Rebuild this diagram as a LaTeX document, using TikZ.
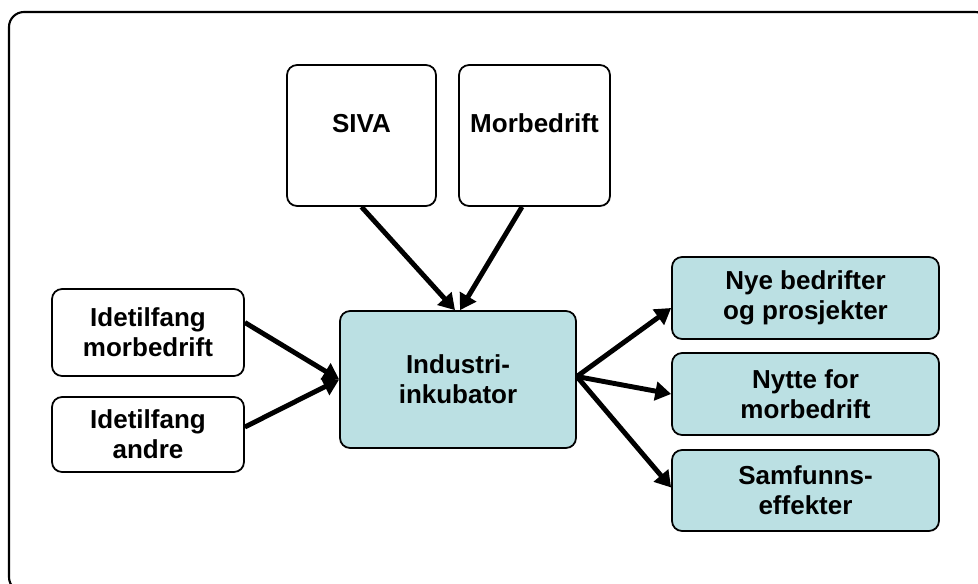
\documentclass[tikz,border=0pt]{standalone}
\usepackage{fontspec}
\setmainfont{Liberation Sans}
\usepackage{tikz}
\usetikzlibrary{arrows.meta}

\definecolor{inkfill}{RGB}{187,224,227}

\tikzset{
    box/.style = {draw, line width=1pt, rounded corners=0.2cm, align=center, inner sep=0pt,
                  font=\fontsize{14.8}{17}\selectfont\bfseries},
    inbox/.style = {box, fill=white},
    outbox/.style = {box, fill=inkfill},
    pil/.style = {line width=2.8pt, -{Triangle[length=9pt,width=10.5pt]}}
}

\begin{document}
\begin{tikzpicture}[x=0.02cm, y=-0.02cm]
            \useasboundingbox (0,0) rectangle (978,583);
            \draw[line width=1.2pt, rounded corners=0.3cm] (9,12) rectangle (990,592);
            % kilder
            \node[inbox, minimum width=2.98cm, minimum height=2.82cm] (siva) at (361.5,135.5) {SIVA\\[-0.12cm]};
            \node[inbox, minimum width=3.02cm, minimum height=2.82cm] (morb) at (534.5,135.5) {Morbedrift\\[-0.12cm]};
            \node[inbox, minimum width=3.84cm, minimum height=1.74cm] (idemor) at (148,332.5) {Idetilfang\\morbedrift};
            \node[inbox, minimum width=3.84cm, minimum height=1.50cm] (ideand) at (148,434.5) {Idetilfang\\andre};
            % inkubator
            \node[outbox, minimum width=4.72cm, minimum height=2.74cm] (ink) at (458,379.5) {Industri-\\inkubator};
            % resultater
            \node[outbox, minimum width=5.34cm, minimum height=1.64cm] (nye) at (805.5,298) {Nye bedrifter\\og prosjekter};
            \node[outbox, minimum width=5.34cm, minimum height=1.64cm] (nytte) at (805.5,394) {Nytte for\\morbedrift};
            \node[outbox, minimum width=5.34cm, minimum height=1.62cm] (samf) at (805.5,490.5) {Samfunns-\\effekter};
            % piler
            \draw[pil] (siva.south) -- ([xshift=-0.06cm]ink.north);
            \draw[pil] ([xshift=-0.25cm]morb.south) -- ([xshift=0.04cm]ink.north);
            \draw[pil] ([yshift=0.2cm]idemor.east) -- (ink.west);
            \draw[pil] ([yshift=0.15cm]ideand.east) -- (ink.west);
            \draw[pil] ([yshift=0.06cm]ink.east) -- ([yshift=-0.2cm]nye.west);
            \draw[pil] ([yshift=0.06cm]ink.east) -- (nytte.west);
            \draw[pil] ([yshift=0.06cm]ink.east) -- ([yshift=0.06cm]samf.west);
        \end{tikzpicture}
\end{document}
